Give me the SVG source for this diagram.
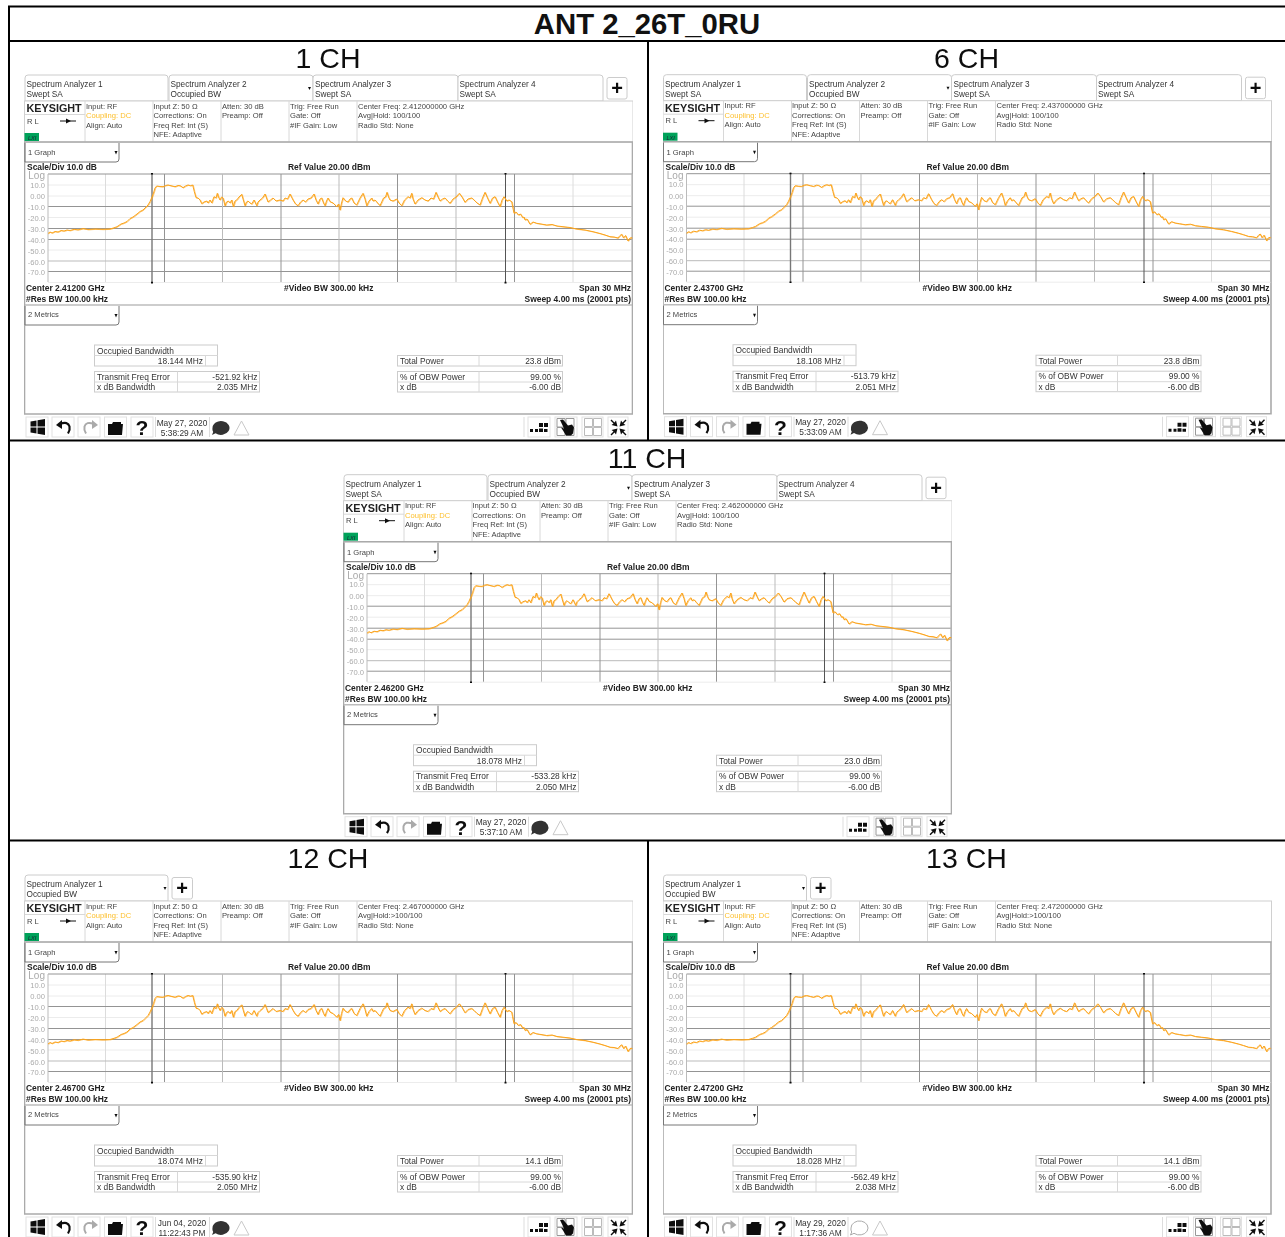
<svg xmlns="http://www.w3.org/2000/svg" width="1285" height="1237" viewBox="0 0 1285 1237">
<style>
text{font-family:"Liberation Sans",Arial,sans-serif;fill:#333}
.tb{font-size:8.25px}
.i{font-size:7.6px;fill:#444}
.o{fill:#fdc02f}
.ks{font-size:10.8px;font-weight:700;fill:#222}
.b{font-size:8.45px;font-weight:700;fill:#222}
.a{font-size:7.6px;fill:#aaa;text-anchor:end}
.lg{font-size:10px}
.d{font-size:7.6px;fill:#444}
.m{font-size:8.4px;fill:#333}
.r{text-anchor:end}
.c{text-anchor:middle}
.h{font-size:28.5px;fill:#111;text-anchor:middle}
.title{font-size:29.3px;font-weight:700;fill:#111;text-anchor:middle}
.plus{font-size:20px;font-weight:700;fill:#111;text-anchor:middle}
.q{font-size:21px;font-weight:700;fill:#111;text-anchor:middle}
.lx{font-size:5.5px;font-style:italic;fill:#123}
.cell{fill:#fff;stroke:#ccc;stroke-width:1}
.cl{stroke:#d8d8d8;stroke-width:1;fill:none}
.gd{stroke:#949494;stroke-width:1}
.gm{stroke:#bbb;stroke-width:1}
.gl{stroke:#ececec;stroke-width:1}
.gv{stroke:#dcdcdc;stroke-width:1}
.fr{stroke:#aaa;stroke-width:1.6;fill:none}
.dd{fill:none;stroke:#777;stroke-width:1}
.btn{fill:#fff;stroke:#e2e2e2;stroke-width:1}
.ink{fill:#111}
.shot{filter:url(#soft)}
.bl{stroke:#000;stroke-width:2;fill:none}
.tr{fill:none;stroke:#fba41c;stroke-width:1;stroke-linejoin:round}
</style>
<defs>
<filter id="soft" x="0" y="0" width="1" height="1"><feGaussianBlur stdDeviation="0.3"/></filter>
<polyline id="trace1" class="tr" points="48,233.5 50,232 52,233 55,231.5 58,232 61,230.5 64,231 67,230 70,230.5 74,229.3 78,229.8 83,228.6 88,229.5 95,229 103,229.3 110,229 114,227.8 117,226.7 121,224 124,223 127,221.5 130,218.5 133,217 137,214 140,211.5 143,210 145,208 148,205 150,201.5 152,197 153.5,193 155,188 156.7,186 160,186.5 163,186.7 165.5,185.5 168,185 172,186 175,186.7 178,185.5 180,185.7 183,187.7 185.5,186 188,185 190.5,185.7 192.7,185 194.3,191.7 196,197.7 198,198 200,200 201.7,203.7 204,202 206.7,201 208,203 210,200 211.7,203 214,196.7 216,198 217.3,193.3 218.5,197 220,200 221.5,197 223,198 225,205.7 226.5,202 228.3,201 230,203 231.7,200 233.3,206.7 235,201 236.7,200 239,197 241.7,194.3 243,199 245,205.7 246.5,202 248,201 250,203 251.7,204 254,200 256.7,205.7 258,202 260,200 262.5,198 265,194 266.5,198 268,202 270.5,200 273,198 276,201 280,200 283,201 285,198 287.5,199 290,194 291.5,197 293,200 295.5,204 298,205.7 300.5,202 303,200 305.5,202 308,199 311,198 314,194 316,200 318,204 320,199 321.7,198 323.5,203 325,205.7 326.5,201 328,198 330,201.7 333,203 336.7,206.7 338.5,204 340,210 341.5,203 343,197.7 345.5,201 348,202 350,199 351.7,198 354,203 356.7,205 360,198 363,193.3 365,199 366.7,205.7 369,201 371.7,198 373,201 375,200 377.5,203 380,205.7 383.5,198 385.5,197 387,192.3 388.5,197 390,200 393,201 396.7,199 399,203 401.7,205.7 404.5,200 408,196.7 410,198 411.7,193.3 413,199 415,204 418,200 421.7,197.7 425,200 428,201 431,198 433.5,199 436,192.3 438,197 440,201 442.5,199 445,198 447.5,201 450,203.3 453,199 456,197 459.3,193.3 462,197 465,202.3 468,199 471.7,198 474,200 477,203 480,205 482.5,198 485,192.3 487.5,198 490,203.3 492.5,198 495,196.7 497.5,202 500,206.7 502,200 504,196.7 506.7,201 509,200 511.7,201.7 512.5,206 514,213.3 516,212 518.3,215 520.5,214 522.7,217.7 524,217 525,220 527,219 530,224.3 533,222 536.7,223.3 541,224 546.7,225 552,224.5 557,226 563,226.7 570,227.5 576.7,229 585,230 593,231.7 600,233.5 605,235 610,236.7 614,237 618,238 620,235.5 621.7,234.3 623.5,238 625.5,235.5 628,241 630,238 632,237.7"/>
<g id="trace"><use href="#trace1"/><use href="#trace1" x="0.7" y="0.4" opacity="0.6"/></g>
<g id="tabs4">
<path class="cell" d="M25 101V78q0-3 3-3H165q3 0 3 3V101Z"/>
<path class="cell" d="M169 101V78q0-3 3-3H310q3 0 3 3V101Z"/>
<path class="cell" d="M313 101V78q0-3 3-3H455q3 0 3 3V101Z"/>
<path class="cell" d="M458 101V78q0-3 3-3H600q3 0 3 3V101Z"/>
<path class="ink" d="M308 87h3l-1.5 3z"/>
<rect class="cell" x="607" y="77.5" width="20" height="21.5" rx="2"/>
</g>
<g id="tabs1">
<path class="cell" d="M25 101V78q0-3 3-3H165q3 0 3 3V101Z"/>
<path class="ink" d="M163.5 87h3l-1.5 3z"/>
<rect class="cell" x="172" y="77.5" width="20.5" height="21.5" rx="2"/>
</g>
<g id="chrome">
<rect x="24.5" y="101" width="608.5" height="41" fill="#fff" stroke="#d0d0d0"/>
<path class="cl" d="M85 101V142M153 101V142M221 101V142M289 101V142M357 101V142M25 114.5H85"/>
<rect x="24.5" y="133" width="14.5" height="8" fill="#00a25a"/>
<path d="M60 121H76" stroke="#111" stroke-width="1"/><path class="ink" d="M66 118.5l5 2.5-5 2.5z"/>
<path class="fr" d="M24.5 142H632.5V414H24.5Z"/>
<path d="M25 305H632" stroke="#bdbdbd" stroke-width="1.6"/>
<path class="dd" d="M25 143V162H116q3 0 3-3V143"/><path class="ink" d="M114.5 151h3l-1.5 3.500z"/>
<path class="dd" d="M25 306V325H116q3 0 3-3V306"/><path class="ink" d="M114.5 314h3l-1.5 3.500z"/>
<path class="gl" d="M48 185H632M48 196H632M48 217.5H632M48 250H632M48 282.5H632"/>
<path class="gv" d="M105.5 174V282M573 174V282"/>
<path class="gd" d="M48 174H632M48 206.5H632M48 228.5H632M48 239.5H632M48 271.5H632"/>
<path class="gm" d="M48 261H632"/>
<path class="gm" d="M222.5 174V282M339 174V282M456 174V282M48 174V282M632 174V282"/>
<path class="gd" d="M164.5 174V282M281 174V282M397.5 174V282M514.5 174V282"/>
<path d="M152 173V283" stroke="#777" stroke-width="1.4"/>
<path d="M505.5 173V283" stroke="#555" stroke-width="1"/>
<path class="ink" d="M151 173h2v1.600h-2zM151 281.800h2v1.600h-2zM504.5 173h2v1.600h-2zM504.5 281.800h2v1.600h-2z"/>
<rect class="cell" x="94.5" y="345" width="123" height="21"/>
<path class="cl" d="M94.5 355.5H217.5M205.5 355.5V366"/>
<rect class="cell" x="94.5" y="371.5" width="165" height="20.5"/>
<path class="cl" d="M94.5 382H259.5M177.5 371.5V392"/>
<rect class="cell" x="397.5" y="355.5" width="165" height="10.5"/>
<path class="cl" d="M479 355.5V366"/>
<rect class="cell" x="397.5" y="371.5" width="165" height="20.5"/>
<path class="cl" d="M397.5 382H562.5M479 371.5V392"/>
</g>
<g id="toolbar">
<rect class="btn" x="26" y="417" width="22" height="20"/>
<rect class="btn" x="52" y="417" width="22" height="20"/>
<rect class="btn" x="78" y="417" width="22" height="20"/>
<rect class="btn" x="104.5" y="417" width="22" height="20"/>
<rect class="btn" x="131" y="417" width="22" height="20"/>
<path class="ink" d="M30.5 421.5l6-1v6h-6zM37.5 420.3l7.500-1.300v7.500h-7.500zM30.5 427.5h6v6l-6-1zM37.5 427.5h7.500v7.500l-7.500-1.300z"/>
<path d="M60 424q8-3 9.500 2.500q.8 3.500-1.500 7" fill="none" stroke="#111" stroke-width="2.200"/><path class="ink" d="M56 425l6-5v9z"/>
<path d="M94 424q-8-3-9.500 2.500q-.8 3.500 1.500 7" fill="none" stroke="#aaa" stroke-width="2"/><path fill="#aaa" d="M98 425l-6-5v9z"/>
<path class="ink" d="M108 424h4l1-2h8v2h2l-1 11h-14z"/>
<path d="M155.5 417V437M209.5 417V437M524 417V437" stroke="#ddd"/>
<path fill="none" stroke="#c8c8c8" d="M234 435l7.500-14 7.500 14z"/>
<rect class="btn" x="528" y="417" width="22" height="20"/>
<rect class="btn" x="555" y="417" width="22" height="20"/>
<rect class="btn" x="582" y="417" width="21" height="20"/>
<rect class="btn" x="608" y="417" width="20" height="20"/>
<path class="ink" d="M530 429h3v3h-3zM535 429h3v3h-3zM539 423h4v4h-4zM544 423h4v4h-4zM539 428.5h4v3.500h-4zM544 429h3.500v3h-3.500z"/>
<path fill="none" stroke="#999" d="M557 418.5h8v8.500h-8zM566 418.5h8v8.500h-8zM557 427.5h8v8h-8zM566 427.5h8v8h-8z"/>
<path class="ink" d="M560 420l3-.5 5 6 4-1 2 3-1 6-2 2h-5l-3-5-2-3 3 1z"/>
<path fill="none" stroke="#bbb" d="M584.5 418.5h8v8h-8zM593.5 418.5h8v8h-8zM584.5 427.5h8v8h-8zM593.5 427.5h8v8h-8z"/>
<path class="ink" d="M617.5 426.5l-6-1.500 2-1.500-3-3 1-1 3 3 1.500-2zM619.5 426.5l6-1.500-2-1.500 3-3-1-1-3 3-1.500-2zM617.5 428.5l-6 1.500 2 1.500-3 3 1 1 3-3 1.500 2zM619.5 428.5l6 1.500-2 1.500 3 3-1 1-3-3-1.500 2z"/>
</g>
<path id="chat" d="M212.5 428a8.500 7 0 1 1 3 5.300l-3.500 1.700 1.200-3a8.500 7 0 0 1-.7-4z"/>
</defs>

<g id="panel-1ch" class="shot">
<text class="h" x="328" y="68">1 CH</text>
<use href="#tabs4"/><use href="#chrome"/><use href="#toolbar"/>
<use href="#trace"/>
<use href="#chat" fill="#333"/>
<text class="tb" x="26.5" y="87">Spectrum Analyzer 1</text><text class="tb" x="26.5" y="97">Swept SA</text>
<text class="tb" x="170.5" y="87">Spectrum Analyzer 2</text><text class="tb" x="170.5" y="97">Occupied BW</text>
<text class="tb" x="315" y="87">Spectrum Analyzer 3</text><text class="tb" x="315" y="97">Swept SA</text>
<text class="tb" x="459.5" y="87">Spectrum Analyzer 4</text><text class="tb" x="459.5" y="97">Swept SA</text>
<text class="plus" x="617" y="95">+</text>
<text class="ks" x="26.5" y="112">KEYSIGHT</text><text class="i" x="27" y="123.5">R L</text><text class="lx" x="28" y="140">LXI</text>
<text class="i" x="86" y="108.5">Input: RF</text><text class="i o" x="86" y="118">Coupling: DC</text><text class="i" x="86" y="127.7">Align: Auto</text>
<text class="i" x="153.5" y="108.5">Input Z: 50 Ω</text><text class="i" x="153.5" y="118">Corrections: On</text><text class="i" x="153.5" y="127.7">Freq Ref: Int (S)</text><text class="i" x="153.5" y="137">NFE: Adaptive</text>
<text class="i" x="222" y="108.5">Atten: 30 dB</text><text class="i" x="222" y="118">Preamp: Off</text>
<text class="i" x="290" y="108.5">Trig: Free Run</text><text class="i" x="290" y="118">Gate: Off</text><text class="i" x="290" y="127.7">#IF Gain: Low</text>
<text class="i" x="358" y="108.5">Center Freq: 2.412000000 GHz</text><text class="i" x="358" y="118">Avg|Hold: 100/100</text><text class="i" x="358" y="127.7">Radio Std: None</text>
<text class="d" x="28" y="155">1 Graph</text>
<text class="b" x="27" y="170">Scale/Div 10.0 dB</text><text class="b" x="288" y="170">Ref Value 20.00 dBm</text>
<text class="a lg" x="45" y="179">Log</text><text class="a" x="45" y="187.7">10.0</text><text class="a" x="45" y="199">0.00</text><text class="a" x="45" y="210">-10.0</text><text class="a" x="45" y="221">-20.0</text><text class="a" x="45" y="232">-30.0</text><text class="a" x="45" y="242.5">-40.0</text><text class="a" x="45" y="253.5">-50.0</text><text class="a" x="45" y="264.5">-60.0</text><text class="a" x="45" y="275">-70.0</text>
<text class="b" x="26" y="291">Center 2.41200 GHz</text><text class="b" x="284" y="291">#Video BW 300.00 kHz</text><text class="b r" x="631" y="291">Span 30 MHz</text>
<text class="b" x="26" y="302">#Res BW 100.00 kHz</text><text class="b r" x="631" y="302">Sweep 4.00 ms (20001 pts)</text>
<text class="d" x="28" y="317">2 Metrics</text>
<text class="m" x="97" y="353.5">Occupied Bandwidth</text><text class="m r" x="203" y="364">18.144 MHz</text>
<text class="m" x="97" y="379.5">Transmit Freq Error</text><text class="m r" x="257.5" y="379.5">-521.92 kHz</text>
<text class="m" x="97" y="390">x dB Bandwidth</text><text class="m r" x="257.5" y="390">2.035 MHz</text>
<text class="m" x="400" y="364">Total Power</text><text class="m r" x="561" y="364">23.8 dBm</text>
<text class="m" x="400" y="379.5">% of OBW Power</text><text class="m r" x="561" y="379.5">99.00 %</text>
<text class="m" x="400" y="390">x dB</text><text class="m r" x="561" y="390">-6.00 dB</text>
<text class="q" x="142" y="435">?</text>
<text class="m c" x="182" y="425.5">May 27, 2020</text><text class="m c" x="182" y="435.5">5:38:29 AM</text>
</g>

<g id="panel-6ch" class="shot" transform="translate(638.5 -0.3)">
<text class="h" x="328" y="68">6 CH</text>
<use href="#tabs4"/><use href="#chrome"/><use href="#toolbar"/>
<use href="#trace"/>
<use href="#chat" fill="#333"/>
<text class="tb" x="26.5" y="87">Spectrum Analyzer 1</text><text class="tb" x="26.5" y="97">Swept SA</text>
<text class="tb" x="170.5" y="87">Spectrum Analyzer 2</text><text class="tb" x="170.5" y="97">Occupied BW</text>
<text class="tb" x="315" y="87">Spectrum Analyzer 3</text><text class="tb" x="315" y="97">Swept SA</text>
<text class="tb" x="459.5" y="87">Spectrum Analyzer 4</text><text class="tb" x="459.5" y="97">Swept SA</text>
<text class="plus" x="617" y="95">+</text>
<text class="ks" x="26.5" y="112">KEYSIGHT</text><text class="i" x="27" y="123.5">R L</text><text class="lx" x="28" y="140">LXI</text>
<text class="i" x="86" y="108.5">Input: RF</text><text class="i o" x="86" y="118">Coupling: DC</text><text class="i" x="86" y="127.7">Align: Auto</text>
<text class="i" x="153.5" y="108.5">Input Z: 50 Ω</text><text class="i" x="153.5" y="118">Corrections: On</text><text class="i" x="153.5" y="127.7">Freq Ref: Int (S)</text><text class="i" x="153.5" y="137">NFE: Adaptive</text>
<text class="i" x="222" y="108.5">Atten: 30 dB</text><text class="i" x="222" y="118">Preamp: Off</text>
<text class="i" x="290" y="108.5">Trig: Free Run</text><text class="i" x="290" y="118">Gate: Off</text><text class="i" x="290" y="127.7">#IF Gain: Low</text>
<text class="i" x="358" y="108.5">Center Freq: 2.437000000 GHz</text><text class="i" x="358" y="118">Avg|Hold: 100/100</text><text class="i" x="358" y="127.7">Radio Std: None</text>
<text class="d" x="28" y="155">1 Graph</text>
<text class="b" x="27" y="170">Scale/Div 10.0 dB</text><text class="b" x="288" y="170">Ref Value 20.00 dBm</text>
<text class="a lg" x="45" y="179">Log</text><text class="a" x="45" y="187.7">10.0</text><text class="a" x="45" y="199">0.00</text><text class="a" x="45" y="210">-10.0</text><text class="a" x="45" y="221">-20.0</text><text class="a" x="45" y="232">-30.0</text><text class="a" x="45" y="242.5">-40.0</text><text class="a" x="45" y="253.5">-50.0</text><text class="a" x="45" y="264.5">-60.0</text><text class="a" x="45" y="275">-70.0</text>
<text class="b" x="26" y="291">Center 2.43700 GHz</text><text class="b" x="284" y="291">#Video BW 300.00 kHz</text><text class="b r" x="631" y="291">Span 30 MHz</text>
<text class="b" x="26" y="302">#Res BW 100.00 kHz</text><text class="b r" x="631" y="302">Sweep 4.00 ms (20001 pts)</text>
<text class="d" x="28" y="317">2 Metrics</text>
<text class="m" x="97" y="353.5">Occupied Bandwidth</text><text class="m r" x="203" y="364">18.108 MHz</text>
<text class="m" x="97" y="379.5">Transmit Freq Error</text><text class="m r" x="257.5" y="379.5">-513.79 kHz</text>
<text class="m" x="97" y="390">x dB Bandwidth</text><text class="m r" x="257.5" y="390">2.051 MHz</text>
<text class="m" x="400" y="364">Total Power</text><text class="m r" x="561" y="364">23.8 dBm</text>
<text class="m" x="400" y="379.5">% of OBW Power</text><text class="m r" x="561" y="379.5">99.00 %</text>
<text class="m" x="400" y="390">x dB</text><text class="m r" x="561" y="390">-6.00 dB</text>
<text class="q" x="142" y="435">?</text>
<text class="m c" x="182" y="425.5">May 27, 2020</text><text class="m c" x="182" y="435.5">5:33:09 AM</text>
</g>

<g id="panel-11ch" class="shot" transform="translate(319 399.7)">
<text class="h" x="328" y="68">11 CH</text>
<use href="#tabs4"/><use href="#chrome"/><use href="#toolbar"/>
<use href="#trace"/>
<use href="#chat" fill="#333"/>
<text class="tb" x="26.5" y="87">Spectrum Analyzer 1</text><text class="tb" x="26.5" y="97">Swept SA</text>
<text class="tb" x="170.5" y="87">Spectrum Analyzer 2</text><text class="tb" x="170.5" y="97">Occupied BW</text>
<text class="tb" x="315" y="87">Spectrum Analyzer 3</text><text class="tb" x="315" y="97">Swept SA</text>
<text class="tb" x="459.5" y="87">Spectrum Analyzer 4</text><text class="tb" x="459.5" y="97">Swept SA</text>
<text class="plus" x="617" y="95">+</text>
<text class="ks" x="26.5" y="112">KEYSIGHT</text><text class="i" x="27" y="123.5">R L</text><text class="lx" x="28" y="140">LXI</text>
<text class="i" x="86" y="108.5">Input: RF</text><text class="i o" x="86" y="118">Coupling: DC</text><text class="i" x="86" y="127.7">Align: Auto</text>
<text class="i" x="153.5" y="108.5">Input Z: 50 Ω</text><text class="i" x="153.5" y="118">Corrections: On</text><text class="i" x="153.5" y="127.7">Freq Ref: Int (S)</text><text class="i" x="153.5" y="137">NFE: Adaptive</text>
<text class="i" x="222" y="108.5">Atten: 30 dB</text><text class="i" x="222" y="118">Preamp: Off</text>
<text class="i" x="290" y="108.5">Trig: Free Run</text><text class="i" x="290" y="118">Gate: Off</text><text class="i" x="290" y="127.7">#IF Gain: Low</text>
<text class="i" x="358" y="108.5">Center Freq: 2.462000000 GHz</text><text class="i" x="358" y="118">Avg|Hold: 100/100</text><text class="i" x="358" y="127.7">Radio Std: None</text>
<text class="d" x="28" y="155">1 Graph</text>
<text class="b" x="27" y="170">Scale/Div 10.0 dB</text><text class="b" x="288" y="170">Ref Value 20.00 dBm</text>
<text class="a lg" x="45" y="179">Log</text><text class="a" x="45" y="187.7">10.0</text><text class="a" x="45" y="199">0.00</text><text class="a" x="45" y="210">-10.0</text><text class="a" x="45" y="221">-20.0</text><text class="a" x="45" y="232">-30.0</text><text class="a" x="45" y="242.5">-40.0</text><text class="a" x="45" y="253.5">-50.0</text><text class="a" x="45" y="264.5">-60.0</text><text class="a" x="45" y="275">-70.0</text>
<text class="b" x="26" y="291">Center 2.46200 GHz</text><text class="b" x="284" y="291">#Video BW 300.00 kHz</text><text class="b r" x="631" y="291">Span 30 MHz</text>
<text class="b" x="26" y="302">#Res BW 100.00 kHz</text><text class="b r" x="631" y="302">Sweep 4.00 ms (20001 pts)</text>
<text class="d" x="28" y="317">2 Metrics</text>
<text class="m" x="97" y="353.5">Occupied Bandwidth</text><text class="m r" x="203" y="364">18.078 MHz</text>
<text class="m" x="97" y="379.5">Transmit Freq Error</text><text class="m r" x="257.5" y="379.5">-533.28 kHz</text>
<text class="m" x="97" y="390">x dB Bandwidth</text><text class="m r" x="257.5" y="390">2.050 MHz</text>
<text class="m" x="400" y="364">Total Power</text><text class="m r" x="561" y="364">23.0 dBm</text>
<text class="m" x="400" y="379.5">% of OBW Power</text><text class="m r" x="561" y="379.5">99.00 %</text>
<text class="m" x="400" y="390">x dB</text><text class="m r" x="561" y="390">-6.00 dB</text>
<text class="q" x="142" y="435">?</text>
<text class="m c" x="182" y="425.5">May 27, 2020</text><text class="m c" x="182" y="435.5">5:37:10 AM</text>
</g>

<g id="panel-12ch" class="shot" transform="translate(0 800)">
<text class="h" x="328" y="68">12 CH</text>
<use href="#tabs1"/><use href="#chrome"/><use href="#toolbar"/>
<use href="#trace" y="10.5"/>
<use href="#chat" fill="#333"/>
<text class="tb" x="26.5" y="87">Spectrum Analyzer 1</text><text class="tb" x="26.5" y="97">Occupied BW</text>
<text class="plus" x="182" y="95">+</text>
<text class="ks" x="26.5" y="112">KEYSIGHT</text><text class="i" x="27" y="123.5">R L</text><text class="lx" x="28" y="140">LXI</text>
<text class="i" x="86" y="108.5">Input: RF</text><text class="i o" x="86" y="118">Coupling: DC</text><text class="i" x="86" y="127.7">Align: Auto</text>
<text class="i" x="153.5" y="108.5">Input Z: 50 Ω</text><text class="i" x="153.5" y="118">Corrections: On</text><text class="i" x="153.5" y="127.7">Freq Ref: Int (S)</text><text class="i" x="153.5" y="137">NFE: Adaptive</text>
<text class="i" x="222" y="108.5">Atten: 30 dB</text><text class="i" x="222" y="118">Preamp: Off</text>
<text class="i" x="290" y="108.5">Trig: Free Run</text><text class="i" x="290" y="118">Gate: Off</text><text class="i" x="290" y="127.7">#IF Gain: Low</text>
<text class="i" x="358" y="108.5">Center Freq: 2.467000000 GHz</text><text class="i" x="358" y="118">Avg|Hold:&gt;100/100</text><text class="i" x="358" y="127.7">Radio Std: None</text>
<text class="d" x="28" y="155">1 Graph</text>
<text class="b" x="27" y="170">Scale/Div 10.0 dB</text><text class="b" x="288" y="170">Ref Value 20.00 dBm</text>
<text class="a lg" x="45" y="179">Log</text><text class="a" x="45" y="187.7">10.0</text><text class="a" x="45" y="199">0.00</text><text class="a" x="45" y="210">-10.0</text><text class="a" x="45" y="221">-20.0</text><text class="a" x="45" y="232">-30.0</text><text class="a" x="45" y="242.5">-40.0</text><text class="a" x="45" y="253.5">-50.0</text><text class="a" x="45" y="264.5">-60.0</text><text class="a" x="45" y="275">-70.0</text>
<text class="b" x="26" y="291">Center 2.46700 GHz</text><text class="b" x="284" y="291">#Video BW 300.00 kHz</text><text class="b r" x="631" y="291">Span 30 MHz</text>
<text class="b" x="26" y="302">#Res BW 100.00 kHz</text><text class="b r" x="631" y="302">Sweep 4.00 ms (20001 pts)</text>
<text class="d" x="28" y="317">2 Metrics</text>
<text class="m" x="97" y="353.5">Occupied Bandwidth</text><text class="m r" x="203" y="364">18.074 MHz</text>
<text class="m" x="97" y="379.5">Transmit Freq Error</text><text class="m r" x="257.5" y="379.5">-535.90 kHz</text>
<text class="m" x="97" y="390">x dB Bandwidth</text><text class="m r" x="257.5" y="390">2.050 MHz</text>
<text class="m" x="400" y="364">Total Power</text><text class="m r" x="561" y="364">14.1 dBm</text>
<text class="m" x="400" y="379.5">% of OBW Power</text><text class="m r" x="561" y="379.5">99.00 %</text>
<text class="m" x="400" y="390">x dB</text><text class="m r" x="561" y="390">-6.00 dB</text>
<text class="q" x="142" y="435">?</text>
<text class="m c" x="182" y="425.5">Jun 04, 2020</text><text class="m c" x="182" y="435.5">11:22:43 PM</text>
</g>

<g id="panel-13ch" class="shot" transform="translate(638.5 800)">
<text class="h" x="328" y="68">13 CH</text>
<use href="#tabs1"/><use href="#chrome"/><use href="#toolbar"/>
<use href="#trace" y="10.5"/>
<use href="#chat" fill="#fff" stroke="#aaa"/>
<text class="tb" x="26.5" y="87">Spectrum Analyzer 1</text><text class="tb" x="26.5" y="97">Occupied BW</text>
<text class="plus" x="182" y="95">+</text>
<text class="ks" x="26.5" y="112">KEYSIGHT</text><text class="i" x="27" y="123.5">R L</text><text class="lx" x="28" y="140">LXI</text>
<text class="i" x="86" y="108.5">Input: RF</text><text class="i o" x="86" y="118">Coupling: DC</text><text class="i" x="86" y="127.7">Align: Auto</text>
<text class="i" x="153.5" y="108.5">Input Z: 50 Ω</text><text class="i" x="153.5" y="118">Corrections: On</text><text class="i" x="153.5" y="127.7">Freq Ref: Int (S)</text><text class="i" x="153.5" y="137">NFE: Adaptive</text>
<text class="i" x="222" y="108.5">Atten: 30 dB</text><text class="i" x="222" y="118">Preamp: Off</text>
<text class="i" x="290" y="108.5">Trig: Free Run</text><text class="i" x="290" y="118">Gate: Off</text><text class="i" x="290" y="127.7">#IF Gain: Low</text>
<text class="i" x="358" y="108.5">Center Freq: 2.472000000 GHz</text><text class="i" x="358" y="118">Avg|Hold:&gt;100/100</text><text class="i" x="358" y="127.7">Radio Std: None</text>
<text class="d" x="28" y="155">1 Graph</text>
<text class="b" x="27" y="170">Scale/Div 10.0 dB</text><text class="b" x="288" y="170">Ref Value 20.00 dBm</text>
<text class="a lg" x="45" y="179">Log</text><text class="a" x="45" y="187.7">10.0</text><text class="a" x="45" y="199">0.00</text><text class="a" x="45" y="210">-10.0</text><text class="a" x="45" y="221">-20.0</text><text class="a" x="45" y="232">-30.0</text><text class="a" x="45" y="242.5">-40.0</text><text class="a" x="45" y="253.5">-50.0</text><text class="a" x="45" y="264.5">-60.0</text><text class="a" x="45" y="275">-70.0</text>
<text class="b" x="26" y="291">Center 2.47200 GHz</text><text class="b" x="284" y="291">#Video BW 300.00 kHz</text><text class="b r" x="631" y="291">Span 30 MHz</text>
<text class="b" x="26" y="302">#Res BW 100.00 kHz</text><text class="b r" x="631" y="302">Sweep 4.00 ms (20001 pts)</text>
<text class="d" x="28" y="317">2 Metrics</text>
<text class="m" x="97" y="353.5">Occupied Bandwidth</text><text class="m r" x="203" y="364">18.028 MHz</text>
<text class="m" x="97" y="379.5">Transmit Freq Error</text><text class="m r" x="257.5" y="379.5">-562.49 kHz</text>
<text class="m" x="97" y="390">x dB Bandwidth</text><text class="m r" x="257.5" y="390">2.038 MHz</text>
<text class="m" x="400" y="364">Total Power</text><text class="m r" x="561" y="364">14.1 dBm</text>
<text class="m" x="400" y="379.5">% of OBW Power</text><text class="m r" x="561" y="379.5">99.00 %</text>
<text class="m" x="400" y="390">x dB</text><text class="m r" x="561" y="390">-6.00 dB</text>
<text class="q" x="142" y="435">?</text>
<text class="m c" x="182" y="425.5">May 29, 2020</text><text class="m c" x="182" y="435.5">1:17:36 AM</text>
</g>

<g id="table-grid">
<path class="bl" d="M8 6.5H1285M8 41H1285M9 6V1237M8 440.5H1285M8 840.5H1285M648 41V440.5M648 840.5V1237"/>
<text class="title" x="647" y="34">ANT 2_26T_0RU</text>
</g>
</svg>
